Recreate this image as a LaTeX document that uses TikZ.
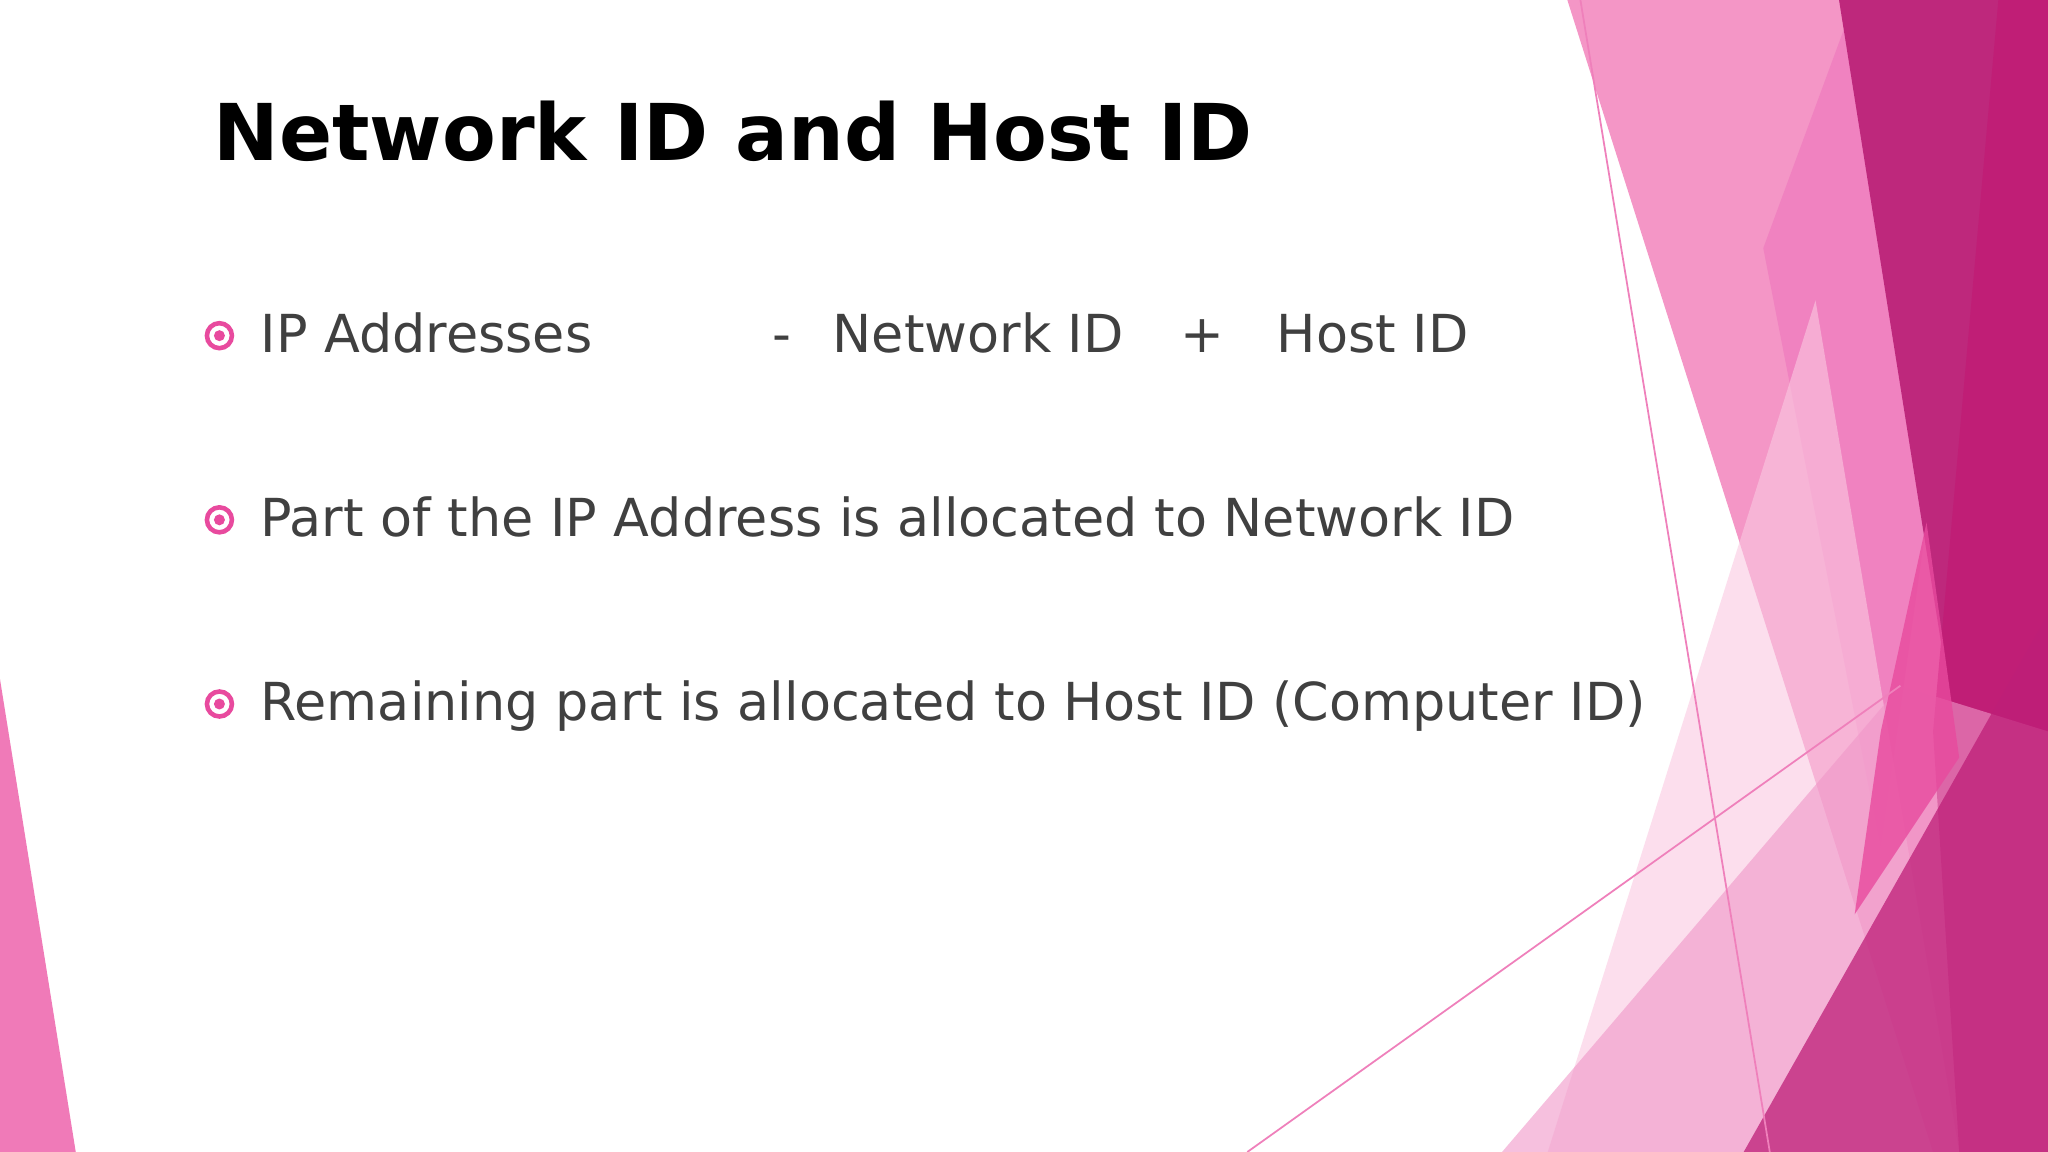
\documentclass[tikz,border=0pt]{standalone}
\usepackage{fontspec}
\setmainfont{DejaVu Sans}
\begin{document}
\begin{tikzpicture}[x=0.013061cm,y=-0.013061cm,
  txt/.style={anchor=base west,text=textgray,font=\fontsize{14.9}{18}\selectfont,inner sep=0},
  bul/.style={draw=bpink,line width=1.3pt,circle,minimum size=0.25cm,inner sep=0},
  thin/.style={draw=bpink!70,line width=0.5pt}]
\definecolor{textgray}{HTML}{404040}
\definecolor{bpink}{HTML}{E84A9E}
\useasboundingbox (0,0) rectangle (1568,882);
\fill[white] (0,0) rectangle (1568,882);
% left triangle
\fill[color={rgb,255:red,240;green,122;blue,184}] (0,520) -- (58,882) -- (0,882) -- cycle;
% right decoration
\fill[color={rgb,255:red,244;green,150;blue,198}] (1200,0) -- (1420,0) -- (1548,882) -- (1480,882) -- cycle;
\fill[color={rgb,255:red,240;green,130;blue,192}] (1420,0) -- (1350,190) -- (1440,650) -- (1475,400) -- cycle;
\fill[color={rgb,255:red,190;green,40;blue,124}] (1408,0) -- (1568,0) -- (1568,882) -- (1548,882) -- cycle;
\fill[color={rgb,255:red,192;green,30;blue,118}] (1530,0) -- (1568,0) -- (1568,882) -- (1500,882) -- (1480,560) -- cycle;
\fill[color={rgb,255:red,250;green,200;blue,225},opacity=0.6] (1185,882) -- (1390,230) -- (1500,882) -- cycle;
\fill[color={rgb,255:red,240;green,150;blue,200},opacity=0.6] (1150,882) -- (1455,525) -- (1568,560) -- (1568,882) -- cycle;
\fill[color={rgb,255:red,232;green,74;blue,158},opacity=0.8] (1440,560) -- (1475,400) -- (1500,580) -- (1420,700) -- cycle;
\fill[color={rgb,255:red,190;green,30;blue,120},opacity=0.75] (1335,882) -- (1568,470) -- (1568,882) -- cycle;
\coordinate (l1a) at (1210,0); \coordinate (l1b) at (1355,882);
\coordinate (l2a) at (955,882); \coordinate (l2b) at (1455,525);
\draw[thin] (l1a) -- (l1b);
\draw[thin] (l2a) -- (l2b);
% title
\node[anchor=base west,inner sep=0,font=\fontsize{22.3}{26}\selectfont\bfseries] (title) at (163,123) {Network ID and Host ID};
% bullets
\node[bul] (b1) at (168,257) {}; \fill[bpink] (b1.center) circle (0.055cm);
\node[bul] (b2) at (168,398) {}; \fill[bpink] (b2.center) circle (0.055cm);
\node[bul] (b3) at (168,539) {}; \fill[bpink] (b3.center) circle (0.055cm);
\node[txt] (t1) at (199,270) {IP Addresses};
\node[txt] (t1m) at (591,270) {-};
\node[txt] (t1n) at (637,270) {Network ID};
\node[txt] (t1p) at (903,270) {+};
\node[txt] (t1h) at (977,270) {Host ID};
\node[txt] (t2) at (199,411) {Part of the IP Address is allocated to Network ID};
\node[txt] (t3) at (199,552) {Remaining part is allocated to Host ID (Computer ID)};
\end{tikzpicture}
\end{document}
